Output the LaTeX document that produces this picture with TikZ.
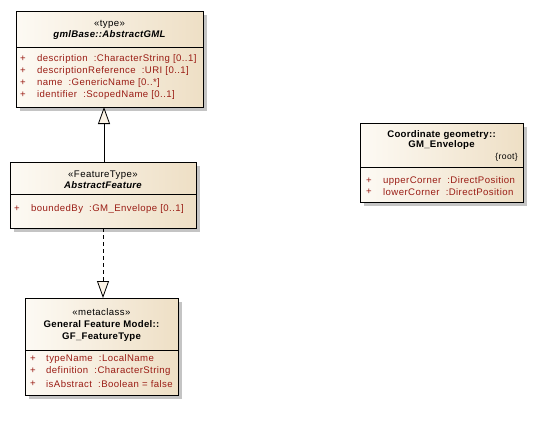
\documentclass[tikz,border=0pt]{standalone}
\usepackage{fontspec}
\setmainfont{Liberation Sans}[LetterSpace=4.3,
  BoldFeatures={LetterSpace=3},
  BoldItalicFeatures={LetterSpace=3}]
\usetikzlibrary{arrows.meta,shadows}

\definecolor{boxleft}{HTML}{FDFAF4}
\definecolor{boxright}{HTML}{EEDFC5}
\definecolor{attrred}{HTML}{9A1C14}
\definecolor{shadowgray}{HTML}{C4C4C4}
\definecolor{tipfill}{HTML}{FBF3E6}

\begin{document}
\begin{tikzpicture}[x=1bp,y=-1bp,
  font=\fontsize{9.6bp}{11bp}\selectfont,
  classbox/.style={draw=black, line width=0.8bp, inner sep=0, outer sep=0,
    left color=boxleft, right color=boxright,
    drop shadow={shadow xshift=4bp, shadow yshift=-4bp, fill=shadowgray, opacity=1}},
  sepline/.style={draw=black, line width=0.8bp},
  stereo/.style={inner sep=0, anchor=center},
  title/.style={inner sep=0, anchor=center, font=\fontsize{9.6bp}{11bp}\selectfont\bfseries},
  ititle/.style={title, font=\fontsize{9.6bp}{11bp}\selectfont\bfseries\itshape},
  plus/.style={inner sep=0, anchor=center, text=attrred},
  attr/.style={inner sep=0, anchor=west, text=attrred},
  generalize/.style={draw=black, line width=0.8bp,
    -{Triangle[length=17bp, width=12bp, fill=tipfill]}},
  realize/.style={generalize, dash pattern=on 4bp off 3bp}]

\useasboundingbox (0,0) rectangle (536,425);

% ---- gmlBase::AbstractGML
\node[classbox, minimum width=187bp, minimum height=96bp] (gml) at (109.5,59) {};
\draw[sepline] (16,47) -- (203,47);
\node[stereo] (gmlst) at (109.5,24) {«type»};
\node[ititle] (gmlti) at (109.5,35.5) {gmlBase::AbstractGML};
\node[plus] (gmlp1) at (23,59) {+};
\node[attr] (gmla1) at (37,59) {description\ \ :CharacterString [0..1]};
\node[plus] (gmlp2) at (23,71) {+};
\node[attr] (gmla2) at (37,71) {descriptionReference\ \ :URI [0..1]};
\node[plus] (gmlp3) at (23,83) {+};
\node[attr] (gmla3) at (37,83) {name\ \ :GenericName [0..*]};
\node[plus] (gmlp4) at (23,95) {+};
\node[attr] (gmla4) at (37,95) {identifier\ \ :ScopedName [0..1]};

% ---- AbstractFeature
\node[classbox, minimum width=186bp, minimum height=66bp] (feat) at (103,195) {};
\draw[sepline] (10,194) -- (196,194);
\node[stereo] (featst) at (103,175) {«FeatureType»};
\node[ititle] (featti) at (103,185.5) {AbstractFeature};
\node[plus] (featp1) at (17,209) {+};
\node[attr] (feata1) at (31,209) {boundedBy\ \ :GM\_Envelope [0..1]};

% ---- General Feature Model::GF_FeatureType
\node[classbox, minimum width=153bp, minimum height=97bp] (ftype) at (101.5,346.5) {};
\draw[sepline] (25,350) -- (178,350);
\node[stereo] (ftypest) at (101.5,312) {«metaclass»};
\node[title] (ftypeti1) at (101.5,324.5) {General Feature Model::};
\node[title] (ftypeti2) at (101.5,337.5) {GF\_FeatureType};
\node[plus] (ftypep1) at (33,359) {+};
\node[attr] (ftypea1) at (46,359) {typeName\ \ :LocalName};
\node[plus] (ftypep2) at (33,371) {+};
\node[attr] (ftypea2) at (46,371) {definition\ \ :CharacterString};
\node[plus] (ftypep3) at (33,384) {+};
\node[attr] (ftypea3) at (46,384) {isAbstract\ \ :Boolean = false};

% ---- Coordinate geometry::GM_Envelope
\node[classbox, minimum width=163bp, minimum height=79bp] (env) at (441.5,162.5) {};
\draw[sepline] (360,167) -- (523,167);
\node[title] (envti1) at (441.5,135) {Coordinate geometry::};
\node[title] (envti2) at (441.5,145) {GM\_Envelope};
\node[inner sep=0, anchor=east, font=\fontsize{8.6bp}{10bp}\selectfont] (envroot) at (518,157) {\{root\}};
\node[plus] (envp1) at (369,181) {+};
\node[attr] (enva1) at (383,181) {upperCorner\ \ :DirectPosition};
\node[plus] (envp2) at (369,192) {+};
\node[attr] (enva2) at (383,192) {lowerCorner\ \ :DirectPosition};

% ---- connectors
\coordinate (genfrom) at (104,162);
\coordinate (gento) at (104,107);
\draw[generalize] (genfrom) -- (gento);
\coordinate (realfrom) at (103,228);
\coordinate (realto) at (103,298);
\draw[realize] (realfrom) -- (realto);
\end{tikzpicture}
\end{document}
